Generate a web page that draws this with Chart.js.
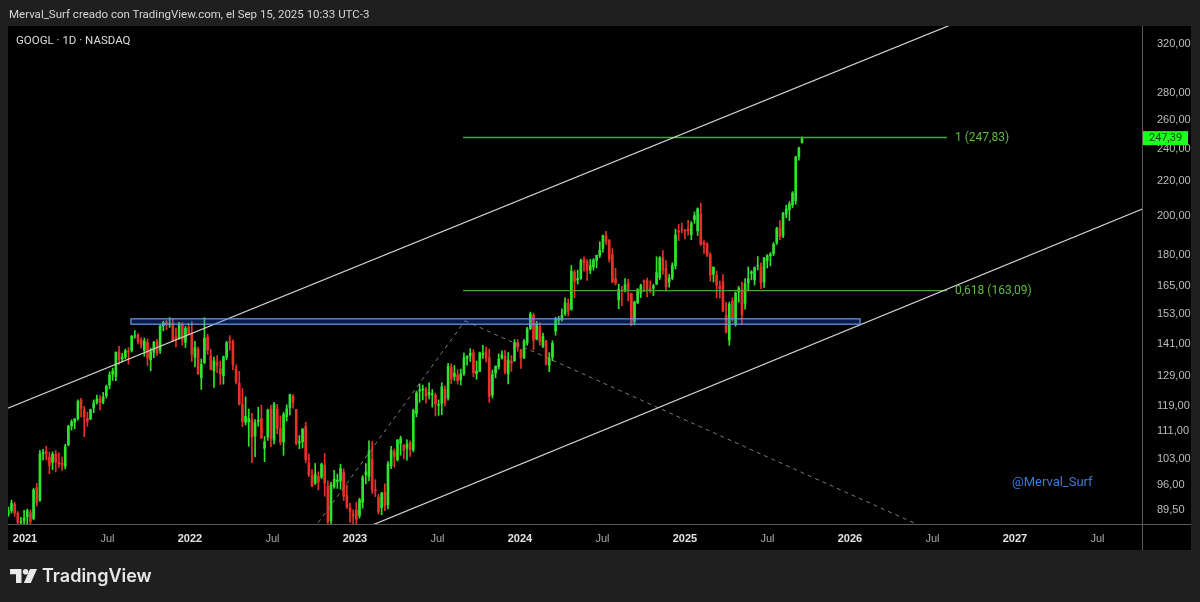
<!DOCTYPE html>
<html lang="es">
<head>
  <meta charset="UTF-8">
  <title>GOOGL · 1D · NASDAQ</title>
  <script src="https://cdn.jsdelivr.net/npm/chart.js@4"></script>
  <style>
    body {
      margin: 0;
      background: #1f1f1f;
      font-family: Roboto, "Noto Sans", sans-serif;
    }
    #wrap {
      position: relative;
      width: 1200px;
      height: 602px;
      overflow: hidden;
    }
    canvas { position: absolute; left: 0; top: 0; }
    .txt { position: absolute; white-space: nowrap; }
    #header { left: 9px; top: 7px; font-size: 11.5px; color: #d6d6d6; }
    #symbol { left: 16px; top: 33px; font-size: 11.5px; color: #dedede; }
    #watermark { left: 1012px; top: 474px; font-size: 13px; color: #3b7bd6; }
    #logo { left: 10px; top: 565px; display: flex; align-items: center; gap: 5px;
            color: #e8e8e8; font-family: Inter, sans-serif; font-size: 18px; font-weight: 600; }
  </style>
</head>
<body>
<div id="wrap">
  <canvas id="chart" width="1200" height="602"></canvas>
  <div class="txt" id="header">Merval_Surf creado con TradingView.com, el Sep 15, 2025 10:33 UTC-3</div>
  <div class="txt" id="symbol">GOOGL · 1D · NASDAQ</div>
  <div class="txt" id="watermark">@Merval_Surf</div>
  <div class="txt" id="logo">
    <svg width="27" height="14" viewBox="0 0 27 14">
      <path d="M0 0 H11.5 V14 H6 V5.2 H0 Z" fill="#e8e8e8"/>
      <circle cx="15.6" cy="2.8" r="2.8" fill="#e8e8e8"/>
      <path d="M20 0 H27 L20.8 14 H13.8 Z" fill="#e8e8e8"/>
    </svg>
    <span>TradingView</span>
  </div>
</div>

<script>
  // weekly candles, first week starts Monday 2020-11-23
  const firstWeek = '2020-11-23';

  const open = [
    88.4, 89.4, 91.0, 88.8, 86.6, 87.0,
    87.9, 88.9, 87.5, 95.2, 92.0, 104.5, 105.2, 103.5, 102.0, 104.3, 102.0, 101.8, 101.0, 107.0,
    112.7, 113.8, 115.0, 120.9, 117.8, 115.0, 114.9, 118.3, 120.2, 121.4, 120.2, 122.4, 126.0, 129.8,
    129.0, 138.0, 135.4, 136.0, 138.2, 138.5, 144.1, 144.4, 142.5, 138.5, 141.6, 135.0, 137.8, 141.8,
    138.5, 148.2, 149.8, 148.9, 149.3, 143.8, 143.0, 148.6, 141.6, 147.6,
    145.1, 136.0, 139.0, 128.5, 134.0, 143.6, 136.3, 131.0, 134.0, 131.8, 129.3, 135.9, 141.8, 141.8,
    131.7, 126.6, 119.5, 113.8, 114.0, 114.6, 109.6, 114.0, 115.0, 106.0, 109.4, 118.0, 108.4, 118.0,
    111.8, 107.9, 115.6, 118.5, 122.2, 117.9, 107.6, 107.9, 112.5, 101.8, 98.4, 96.4, 98.2, 98.0,
    101.2, 95.5, 87.0, 95.4, 96.8, 96.9, 99.2, 93.2, 90.0, 88.6,
    89.6, 88.2, 91.4, 98.6, 98.2, 102.9, 94.6, 92.8, 90.1, 94.0, 90.9, 101.1, 105.0, 102.7,
    107.4, 107.0, 106.0, 107.6, 105.5, 116.6, 124.0, 124.3, 124.6, 122.6, 122.8, 122.5, 119.2, 119.8,
    124.5, 121.7, 132.3, 129.0, 129.5, 127.8, 130.0, 135.6, 136.5, 137.6, 130.0, 130.8, 137.0, 138.0,
    135.8, 122.6, 130.2, 132.5, 135.7, 136.4, 129.9, 134.5, 134.7, 141.6,
    138.6, 135.8, 141.3, 147.0, 152.5, 142.9, 147.8, 140.1, 142.1, 133.0, 135.9, 146.0, 150.4, 150.7,
    153.0, 157.5, 155.0, 171.6, 167.9, 168.7, 177.5, 176.5, 172.5, 174.0, 177.1, 179.6, 183.0, 189.5,
    187.0, 179.9, 168.5, 159.0, 163.1, 163.0, 166.5, 161.7, 149.9, 157.8, 162.0, 167.5, 167.6, 164.0,
    164.2, 166.0, 169.0, 178.4, 173.2, 166.9, 168.7, 174.6, 192.0, 193.0, 192.6,
    193.0, 190.0, 198.0, 192.0, 201.0, 186.0, 185.3, 180.0, 170.5, 170.0, 165.0, 167.0, 152.5, 142.5,
    158.5, 149.0, 162.5, 163.0, 157.5, 166.5, 171.0, 167.9, 174.5, 174.0, 167.0, 177.0, 179.5, 180.5,
    186.0, 193.5, 189.5, 201.0, 203.5, 206.0, 208.5, 235.0, 244.5
  ];
  const high = [
    90.3, 92.0, 91.5, 89.2, 87.8, 89.5,
    89.8, 89.6, 95.0, 96.3, 105.4, 105.7, 106.6, 104.9, 105.0, 105.4, 104.7, 103.5, 107.2, 112.9,
    114.6, 115.0, 121.0, 121.5, 118.9, 117.0, 118.0, 121.0, 122.6, 122.4, 123.5, 126.0, 130.6, 132.0,
    138.0, 140.1, 137.4, 139.0, 139.6, 144.3, 146.2, 145.0, 143.4, 143.3, 143.0, 139.4, 142.0, 142.8,
    148.6, 150.0, 150.5, 151.5, 151.0, 147.2, 149.6, 149.5, 148.0, 149.2,
    149.9, 142.0, 139.8, 135.3, 151.5, 144.7, 139.0, 136.0, 136.6, 134.6, 136.4, 142.0, 144.2, 142.6,
    133.2, 130.8, 124.8, 122.0, 118.0, 116.6, 114.7, 118.6, 119.3, 109.5, 118.0, 119.2, 120.2, 119.5,
    115.8, 117.0, 119.4, 122.9, 122.8, 117.9, 109.8, 111.8, 113.8, 104.4, 100.0, 101.7, 99.4, 101.8,
    104.5, 97.0, 96.6, 99.8, 98.8, 101.5, 100.2, 95.9, 91.2, 89.6,
    91.5, 92.5, 98.4, 101.7, 108.2, 108.0, 97.3, 93.5, 94.0, 96.2, 102.2, 106.6, 105.8, 108.6,
    109.6, 107.0, 108.5, 108.2, 118.0, 123.9, 126.4, 126.0, 125.2, 126.8, 124.5, 123.3, 121.0, 126.8,
    125.7, 133.7, 133.6, 132.9, 131.4, 131.6, 137.6, 136.5, 139.2, 138.8, 134.5, 137.9, 140.5, 139.8,
    139.0, 131.3, 132.8, 137.2, 138.4, 138.5, 137.7, 136.6, 142.7, 142.7,
    139.0, 142.7, 147.6, 153.8, 153.4, 150.0, 149.4, 145.2, 142.4, 137.7, 142.2, 151.6, 152.0, 155.2,
    159.9, 159.5, 174.7, 172.5, 172.5, 177.8, 178.9, 177.5, 177.6, 178.0, 179.7, 186.4, 189.8, 191.8,
    187.6, 183.0, 173.3, 166.0, 165.0, 168.6, 168.2, 162.0, 158.5, 164.0, 166.0, 168.0, 168.8, 167.5,
    166.0, 178.9, 179.0, 182.0, 177.0, 170.5, 176.0, 193.0, 195.4, 196.2, 192.7,
    197.6, 197.0, 202.2, 204.5, 207.1, 187.0, 186.0, 181.0, 174.0, 172.0, 167.5, 170.4, 158.0, 158.0,
    160.0, 162.5, 165.0, 167.0, 168.5, 174.0, 172.2, 174.0, 179.0, 176.0, 178.6, 180.0, 181.0, 186.0,
    194.0, 197.5, 202.0, 206.0, 208.0, 213.8, 235.5, 241.5, 248.2
  ];
  const low = [
    88.0, 88.8, 88.0, 85.6, 85.9, 86.2,
    85.4, 85.3, 87.2, 90.5, 91.7, 102.6, 102.7, 98.9, 100.0, 99.4, 100.6, 99.8, 100.2, 106.7,
    111.4, 111.8, 114.5, 115.5, 109.4, 112.6, 114.6, 116.8, 119.6, 117.7, 119.7, 121.6, 124.7, 127.6,
    127.5, 133.3, 134.2, 135.3, 133.4, 137.9, 143.2, 141.0, 139.5, 136.3, 132.8, 131.0, 135.8, 136.6,
    137.4, 146.1, 146.6, 147.5, 142.0, 139.8, 142.8, 140.5, 139.6, 144.7,
    134.4, 132.4, 129.6, 124.5, 133.6, 137.0, 131.3, 125.2, 130.3, 126.2, 126.3, 135.0, 138.6, 131.4,
    126.4, 119.3, 112.5, 113.0, 106.6, 101.9, 103.6, 112.6, 108.9, 102.2, 108.3, 106.5, 107.3, 110.3,
    107.0, 104.0, 114.2, 116.1, 118.3, 107.0, 105.9, 106.1, 101.9, 98.1, 95.4, 96.0, 94.6, 97.6,
    93.0, 83.3, 85.6, 95.0, 95.0, 94.8, 91.9, 89.9, 86.6, 85.9,
    84.9, 87.6, 90.0, 96.2, 97.0, 93.7, 92.9, 88.6, 88.4, 89.4, 89.8, 100.3, 100.7, 102.4,
    104.0, 103.0, 102.6, 103.7, 105.0, 115.5, 120.2, 121.0, 119.9, 121.3, 118.6, 115.8, 116.0, 116.2,
    119.0, 120.9, 126.4, 127.6, 126.3, 126.0, 129.4, 133.0, 134.4, 128.9, 128.0, 130.8, 135.5, 134.2,
    120.2, 121.6, 128.5, 131.6, 135.2, 129.9, 126.4, 130.8, 134.4, 138.2,
    131.9, 135.4, 140.5, 146.6, 138.7, 142.5, 140.5, 139.6, 133.0, 130.7, 134.6, 144.4, 148.7, 150.0,
    152.4, 152.1, 154.6, 160.0, 166.0, 168.2, 172.0, 167.7, 170.8, 172.5, 173.6, 178.5, 181.2, 185.0,
    176.3, 166.6, 165.6, 155.2, 156.5, 162.5, 158.6, 148.2, 148.5, 157.4, 160.0, 162.6, 160.3, 162.2,
    160.8, 165.8, 168.1, 170.5, 162.8, 164.6, 168.0, 173.0, 187.0, 191.0, 187.8,
    189.8, 187.4, 196.0, 189.6, 184.5, 180.5, 179.0, 167.4, 167.0, 159.9, 159.8, 154.0, 145.2, 140.5,
    150.0, 148.0, 158.0, 148.7, 155.0, 163.0, 168.0, 165.6, 172.5, 164.0, 164.5, 173.5, 174.5, 179.5,
    185.0, 187.5, 188.5, 199.0, 197.5, 204.5, 206.5, 233.0, 244.0
  ];
  const close = [
    89.4, 91.2, 88.8, 86.6, 86.8, 87.6,
    89.4, 86.8, 94.6, 91.4, 104.4, 104.8, 104.4, 101.1, 104.3, 102.2, 101.6, 101.2, 106.5, 112.6,
    114.0, 114.9, 120.5, 118.2, 115.6, 114.2, 117.8, 120.0, 121.3, 120.0, 122.0, 125.5, 129.5, 130.9,
    137.8, 135.2, 135.9, 138.4, 137.9, 144.0, 144.2, 141.9, 140.8, 142.1, 135.8, 138.0, 141.6, 137.5,
    148.0, 149.5, 148.7, 149.0, 142.2, 142.5, 148.6, 142.8, 147.1, 144.8,
    137.0, 139.6, 130.0, 133.3, 143.2, 138.7, 131.5, 134.6, 132.9, 129.9, 136.0, 141.4, 141.5, 133.2,
    127.0, 119.6, 114.1, 115.7, 115.0, 109.3, 113.7, 114.5, 109.0, 107.9, 117.6, 108.9, 119.5, 111.8,
    107.9, 116.3, 118.1, 122.7, 120.2, 107.4, 107.9, 111.8, 102.8, 98.7, 95.7, 98.7, 96.6, 101.5,
    96.3, 86.7, 96.0, 97.4, 97.2, 100.3, 93.0, 90.3, 89.2, 88.2,
    87.3, 92.1, 97.9, 99.4, 105.2, 94.6, 94.4, 89.1, 93.7, 90.6, 101.6, 105.4, 103.7, 108.4,
    108.9, 105.4, 107.3, 105.6, 117.5, 123.3, 124.3, 124.7, 122.2, 123.5, 123.0, 119.7, 119.5, 125.4,
    120.0, 132.6, 128.1, 130.2, 127.5, 129.9, 135.7, 136.4, 137.5, 130.3, 130.9, 137.6, 137.4, 135.6,
    122.2, 129.7, 132.6, 135.3, 136.9, 130.6, 134.9, 133.8, 141.5, 139.7,
    135.7, 142.1, 146.9, 152.9, 142.4, 149.0, 141.8, 143.9, 133.4, 135.6, 141.2, 150.8, 150.9, 152.5,
    157.7, 154.1, 171.9, 167.2, 168.6, 177.0, 175.9, 172.5, 174.5, 177.3, 179.6, 182.2, 189.5, 186.8,
    177.7, 167.0, 166.7, 163.7, 162.9, 165.6, 163.4, 148.7, 158.1, 163.6, 165.3, 167.1, 163.2, 163.4,
    165.3, 171.3, 178.4, 172.5, 164.8, 168.9, 174.7, 189.8, 191.4, 192.8, 192.0,
    192.0, 196.0, 200.2, 204.0, 185.3, 184.9, 179.7, 170.3, 173.9, 165.5, 164.0, 154.3, 145.6, 157.1,
    151.2, 162.0, 164.0, 152.8, 166.2, 168.5, 171.7, 173.7, 174.7, 166.6, 178.3, 179.5, 180.2, 185.1,
    193.2, 189.1, 201.4, 203.9, 206.7, 212.9, 235.0, 240.8, 247.39
  ];

  const lastPrice = 247.39;
  const yTicks = [89.5, 96, 103, 111, 119, 129, 141, 153, 165, 180, 200, 220, 240, 260, 280, 320];
  const xTicks = [2021, 2021.5, 2022, 2022.5, 2023, 2023.5, 2024, 2024.5, 2025, 2025.5, 2026, 2026.5, 2027, 2027.5];

  // drawings, anchors as [year, price]
  const upperChannel = [[2020.80, 116.2], [2026.80, 349]];
  const lowerChannel = [[2023.00, 84.3], [2027.90, 208.7]];
  const dashedUp = [[2022.72, 83.5], [2023.667, 150.2]];
  const dashedDown = [[2023.667, 150.2], [2026.50, 84.5]];
  const zoneX = [2021.642, 2026.061];
  const zoneY = [148.8, 151.0];
  const fibX = [2023.655, 2026.588];
  const fibRatios = ['1', '0,618'];
  const fibPrices = [247.83, 163.09];

  const green = '#2ee52e';
  const red = '#e8302a';

  function yearFrac(ms) {
    const d = new Date(ms);
    const y = d.getUTCFullYear();
    const a = Date.UTC(y, 0, 1), b = Date.UTC(y + 1, 0, 1);
    return y + (ms - a) / (b - a);
  }
  const t0 = Date.parse(firstWeek);
  const weekX = close.map((_, i) => yearFrac(t0 + (i * 7 + 2) * 86400000));

  const candleColor = ctx => close[ctx.dataIndex] >= open[ctx.dataIndex] ? green : red;
  const pts = arr => arr.map(([x, y]) => ({ x, y }));
  const fmt = v => Number(v).toFixed(2).replace('.', ',');
  const isYear = ctx => !!(ctx.tick && Number.isInteger(ctx.tick.value));

  const lineSet = (data, color, dash, width) => ({
    type: 'line', data: pts(data), borderColor: color, borderWidth: width || 1,
    borderDash: dash || [], pointRadius: 0, fill: false, order: 0
  });

  const PANEL = { left: 8, top: 26, right: 1191, bottom: 550 };

  const panelPlugin = {
    id: 'panel',
    beforeDraw(chart) {
      const c = chart.ctx;
      c.save();
      c.fillStyle = '#000000';
      c.fillRect(PANEL.left, PANEL.top, PANEL.right - PANEL.left, PANEL.bottom - PANEL.top);
      c.restore();
    },
    afterDatasetsDraw(chart) {
      const c = chart.ctx, xs = chart.scales.x, ys = chart.scales.y, a = chart.chartArea;
      c.save();
      c.beginPath();
      c.rect(a.left, a.top, a.right - a.left, a.bottom - a.top);
      c.clip();
      // support zone
      const x1 = xs.getPixelForValue(zoneX[0]), x2 = xs.getPixelForValue(zoneX[1]);
      const y1 = ys.getPixelForValue(zoneY[1]), y2 = ys.getPixelForValue(zoneY[0]);
      c.fillStyle = 'rgba(41, 98, 255, 0.28)';
      c.fillRect(x1, y1, x2 - x1, y2 - y1);
      c.strokeStyle = '#6f9be8';
      c.lineWidth = 1.2;
      c.strokeRect(x1, y1, x2 - x1, y2 - y1);
      // fib labels
      c.font = '12px Roboto, sans-serif';
      c.fillStyle = '#5cbd3a';
      c.textBaseline = 'middle';
      fibPrices.forEach((p, i) => {
        c.fillText(fibRatios[i] + ' (' + fmt(p) + ')', xs.getPixelForValue(fibX[1]) + 8, ys.getPixelForValue(p));
      });
      c.restore();
    },
    afterDraw(chart) {
      const c = chart.ctx, ys = chart.scales.y, a = chart.chartArea;
      c.save();
      c.strokeStyle = '#5a5a5a';
      c.lineWidth = 1;
      c.beginPath();
      c.moveTo(PANEL.left, a.bottom + 0.5);
      c.lineTo(PANEL.right, a.bottom + 0.5);
      c.moveTo(a.right + 0.5, PANEL.top);
      c.lineTo(a.right + 0.5, PANEL.bottom);
      c.stroke();
      // last price tag
      const y = ys.getPixelForValue(lastPrice);
      c.fillStyle = '#1cff1c';
      c.fillRect(a.right + 1, y - 7, 45, 14);
      c.fillStyle = '#0d3a0d';
      c.font = '11px Roboto, sans-serif';
      c.textBaseline = 'middle';
      c.fillText(fmt(lastPrice), a.right + 7, y + 0.5);
      c.restore();
    }
  };

  new Chart(document.getElementById('chart'), {
    type: 'bar',
    data: {
      datasets: [
        lineSet(upperChannel, '#d4d4d4', null, 1.2),
        lineSet(lowerChannel, '#d4d4d4', null, 1.2),
        lineSet(dashedUp, '#7a7a7a', [4, 4], 1),
        lineSet(dashedDown, '#7a7a7a', [4, 4], 1),
        lineSet([[fibX[0], fibPrices[0]], [fibX[1], fibPrices[0]]], '#4aa52c', null, 1.3),
        lineSet([[fibX[0], fibPrices[1]], [fibX[1], fibPrices[1]]], '#4aa52c', null, 1.3),
        {
          type: 'bar',
          data: weekX.map((x, i) => ({ x, y: [open[i], close[i]] })),
          backgroundColor: candleColor,
          barThickness: 2,
          grouped: false,
          borderWidth: 0,
          order: 2
        },
        {
          type: 'bar',
          data: weekX.map((x, i) => ({ x, y: [low[i], high[i]] })),
          backgroundColor: candleColor,
          barThickness: 1,
          grouped: false,
          borderWidth: 0,
          order: 3
        }
      ]
    },
    options: {
      responsive: false,
      animation: false,
      events: [],
      layout: { padding: { left: 8, top: 26, right: 9, bottom: 50 } },
      plugins: { legend: { display: false }, tooltip: { enabled: false } },
      scales: {
        x: {
          type: 'linear',
          offset: false,
          min: 2020.897,
          max: 2027.770,
          grid: { display: false, offset: false },
          border: { display: false },
          afterFit: s => { s.height = 28; },
          afterBuildTicks: s => { s.ticks = xTicks.map(v => ({ value: v })); },
          ticks: {
            autoSkip: false,
            maxRotation: 0,
            padding: 0,
            callback: v => Number.isInteger(v) ? String(v) : 'Jul',
            color: ctx => isYear(ctx) ? '#e4e4e4' : '#a8a8a8',
            font: ctx => ({ size: 11, weight: isYear(ctx) ? 'bold' : 'normal' })
          }
        },
        y: {
          type: 'logarithmic',
          position: 'right',
          min: 86.2,
          max: 336.1,
          grid: { display: false },
          border: { display: false },
          afterFit: s => { s.width = 49; },
          afterBuildTicks: s => { s.ticks = yTicks.map(v => ({ value: v })); },
          ticks: {
            autoSkip: false,
            padding: 7,
            color: '#bdbdbd',
            font: { size: 11 },
            callback: v => fmt(v)
          }
        }
      }
    },
    plugins: [panelPlugin]
  });
</script>
</body>
</html>
